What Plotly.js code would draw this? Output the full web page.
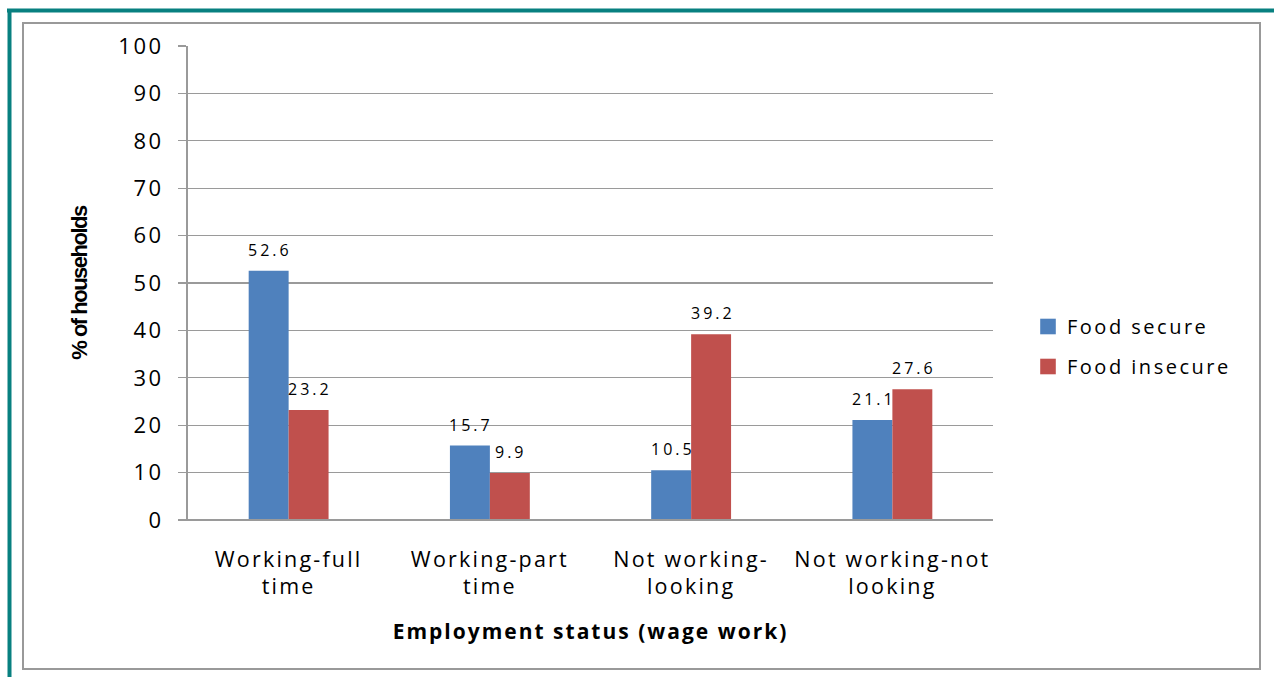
<!DOCTYPE html>
<html>
<head>
<meta charset="utf-8">
<script src="https://cdn.plot.ly/plotly-3.0.1.min.js"></script>
<style>
html,body{margin:0;padding:0;background:#fff;}
#chart{width:1274px;height:677px;}
.xtick text{letter-spacing:2.2px;}
.ytick text{letter-spacing:2.5px;}
.legendtext{letter-spacing:2.5px;}
.xtitle{letter-spacing:2px;}
.ytitle{letter-spacing:-1.5px;}
.annotation-text{letter-spacing:3px;}
.legendpoints path{transform-box:fill-box;transform-origin:center;transform:translate(21px,0px) scale(1.3);}
</style>
</head>
<body>
<div id="chart"></div>
<script>
const categories = ["Working-full<br>time", "Working-part<br>time", "Not working-<br>looking", "Not working-not<br>looking"];
const seriesNames = ["Food secure", "Food insecure"];
const foodSecure = [52.6, 15.7, 10.5, 21.1];
const foodInsecure = [23.2, 9.9, 39.2, 27.6];
const yTicks = [0, 10, 20, 30, 40, 50, 60, 70, 80, 90, 100];

const W = 1274, H = 677;
const L = 188, R = 993, T = 46, B = 520;
const px = x => (x - L) / (R - L);
const py = y => (B - y) / (B - T);

const baseFont = {family: "Open Sans, DejaVu Sans, sans-serif", color: "#000"};

const traces = [
  {type: "bar", name: seriesNames[0], x: categories, y: foodSecure, marker: {color: "#4F81BD"}, legendgroup: "a"},
  {type: "bar", name: seriesNames[1], x: categories, y: foodInsecure, marker: {color: "#C0504D"}, legendgroup: "b"}
];

const labelAnn = [];
[foodSecure, foodInsecure].forEach((vals, si) => {
  vals.forEach((v, i) => {
    labelAnn.push({
      x: categories[i], y: v, xref: "x", yref: "y",
      text: v.toFixed(1), showarrow: false,
      xanchor: "center", yanchor: "bottom",
      xshift: (si === 0 ? -20 : 20) + 1.5, yshift: 8,
      font: Object.assign({}, baseFont, {size: 16})
    });
  });
});

const layout = {
  width: W, height: H,
  margin: {l: L, r: W - R, t: T, b: H - B, pad: 0},
  paper_bgcolor: "#fff", plot_bgcolor: "#fff",
  barmode: "group", bargap: 0.603, bargroupgap: 0,
  showlegend: true,
  legend: {
    x: px(1027), y: py(307), xanchor: "left", yanchor: "top",
    font: Object.assign({}, baseFont, {size: 20}),
    itemwidth: 30, tracegroupgap: 11, bgcolor: "rgba(0,0,0,0)"
  },
  xaxis: {
    type: "category",
    showgrid: false, zeroline: false, showline: false,
    ticks: "", tickfont: Object.assign({}, baseFont, {size: 21.5}),
    ticklabelstandoff: 24,
    title: {text: "<b>Employment status (wage work)</b>", font: Object.assign({}, baseFont, {size: 21}), standoff: 24},
    fixedrange: true
  },
  yaxis: {
    range: [0, 100], tickvals: yTicks, ticktext: yTicks.map(String),
    showgrid: true, gridcolor: "#9a9a9a", gridwidth: 1.3,
    zeroline: false,
    showline: true, linecolor: "#9a9a9a", linewidth: 2,
    ticks: "outside", ticklen: 8, tickcolor: "#9a9a9a", tickwidth: 1.3,
    tickfont: Object.assign({}, baseFont, {size: 22}),
    ticklabelstandoff: 10,
    title: {text: "<b>% of households</b>", font: {family: "Liberation Sans, Arial, sans-serif", size: 22, color: "#000"}, standoff: 25},
    fixedrange: true
  },
  annotations: labelAnn,
  shapes: [
    {type: "line", xref: "paper", yref: "paper", x0: px(178), x1: 1, y0: 0, y1: 0, line: {color: "#9a9a9a", width: 2}},
    {type: "rect", xref: "paper", yref: "paper", x0: px(23), x1: px(1260), y0: py(23), y1: py(669), line: {color: "#999", width: 2}, fillcolor: "rgba(0,0,0,0)", layer: "below"},
    {type: "line", xref: "paper", yref: "paper", x0: px(7), x1: px(1274), y0: py(10.5), y1: py(10.5), line: {color: "#088080", width: 4}},
    {type: "line", xref: "paper", yref: "paper", x0: px(9.5), x1: px(9.5), y0: py(9), y1: py(677), line: {color: "#088080", width: 4}}
  ]
};

Plotly.newPlot("chart", traces, layout, {displayModeBar: false, staticPlot: true});
</script>
</body>
</html>
